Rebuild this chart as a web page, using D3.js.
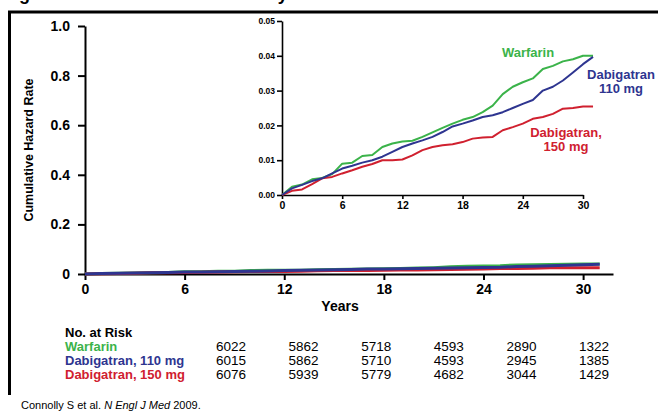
<!DOCTYPE html>
<html>
<head>
<meta charset="utf-8">
<script src="https://cdn.jsdelivr.net/npm/d3@7"></script>
<style>
  body { margin: 0; background: #fff; }
  svg { display: block; font-family: "Liberation Sans", Arial, sans-serif; }
  .axis path, .axis line { stroke: #000; }
  .axis text { fill: #000; font-weight: bold; }
</style>
</head>
<body>
<div id="chart"></div>
<script>
// months of follow-up
var months = [0, 1, 2, 3, 4, 5, 6, 7, 8, 9, 10, 11, 12, 13, 14, 15, 16, 17, 18, 19, 20, 21, 22, 23, 24, 25, 26, 27, 28, 29, 30, 31];

// cumulative hazard
var warfarin = [0, 0.0024, 0.0030, 0.0045, 0.0049, 0.0060, 0.0090, 0.0093, 0.0112, 0.0115, 0.0138, 0.0148, 0.0154, 0.0156, 0.0167, 0.0180, 0.0193, 0.0205, 0.0216, 0.0224, 0.0238, 0.0257, 0.0290, 0.0311, 0.0324, 0.0335, 0.0362, 0.0371, 0.0384, 0.0390, 0.0400, 0.0400];
var dabi110 = [0, 0.0019, 0.0029, 0.0040, 0.0048, 0.0062, 0.0076, 0.0084, 0.0093, 0.0100, 0.0110, 0.0124, 0.0138, 0.0148, 0.0157, 0.0167, 0.0181, 0.0197, 0.0205, 0.0214, 0.0224, 0.0229, 0.0238, 0.0250, 0.0262, 0.0273, 0.0300, 0.0311, 0.0329, 0.0352, 0.0376, 0.0397];
var dabi150 = [0, 0.0012, 0.0016, 0.0031, 0.0048, 0.0052, 0.0062, 0.0071, 0.0081, 0.0089, 0.0100, 0.0100, 0.0102, 0.0114, 0.0129, 0.0138, 0.0143, 0.0146, 0.0152, 0.0162, 0.0165, 0.0167, 0.0186, 0.0195, 0.0205, 0.0219, 0.0224, 0.0233, 0.0248, 0.0250, 0.0254, 0.0254];

// number at risk table
var riskTimes = [0, 6, 12, 18, 24, 30];
var riskWarfarin = [6022, 5862, 5718, 4593, 2890, 1322];
var riskDabi110 = [6015, 5862, 5710, 4593, 2945, 1385];
var riskDabi150 = [6076, 5939, 5779, 4682, 3044, 1429];

var xTicks = [0, 6, 12, 18, 24, 30];
var mainYTicks = [0, 0.2, 0.4, 0.6, 0.8, 1.0];
var insetYTicks = [0, 0.01, 0.02, 0.03, 0.04, 0.05];

var GREEN = "#3bb34a", BLUE = "#2e3590", RED = "#d0202f";

var series = [
    {name: "Warfarin", values: warfarin, color: GREEN, risk: riskWarfarin, label: "Warfarin"},
    {name: "Dabigatran 150", values: dabi150, color: RED, risk: riskDabi150, label: "Dabigatran, 150 mg"},
    {name: "Dabigatran 110", values: dabi110, color: BLUE, risk: riskDabi110, label: "Dabigatran, 110 mg"}
];

var WIDTH = 658, HEIGHT = 412;

var svg = d3.select("#chart")
    .append("svg")
    .attr("width", WIDTH)
    .attr("height", HEIGHT);

// title, cropped by the top edge like in the slide
svg.append("text")
    .attr("x", 3)
    .attr("y", 0)
    .style("font-size", "18px")
    .style("font-weight", "bold")
    .text("Figure: Time to First Stroke or Systemic Embolism");

// frame: top and left rules
svg.append("line")
    .attr("x1", 8).attr("x2", WIDTH)
    .attr("y1", 12).attr("y2", 12)
    .attr("stroke", "#000").attr("stroke-width", 3);
svg.append("line")
    .attr("x1", 9.5).attr("x2", 9.5)
    .attr("y1", 11).attr("y2", 395)
    .attr("stroke", "#000").attr("stroke-width", 3);

// ---- main plot ----
var x = d3.scaleLinear().domain([0, 31.8]).range([85, 613]);
var y = d3.scaleLinear().domain([0, 1]).range([274, 26]);

var xAxis = svg.append("g")
    .attr("class", "axis")
    .attr("transform", "translate(0," + y(0) + ")")
    .call(d3.axisBottom(x).tickValues(xTicks).tickSize(6).tickSizeOuter(0).tickPadding(4));
xAxis.selectAll("path, line").attr("stroke-width", 2);
xAxis.selectAll("text").style("font-size", "14px");

var yAxis = svg.append("g")
    .attr("class", "axis")
    .attr("transform", "translate(" + x(0) + ",0)")
    .call(d3.axisLeft(y).tickValues(mainYTicks).tickSize(7).tickSizeOuter(0).tickPadding(8)
        .tickFormat(function(d) { return d === 0 ? "0" : d3.format(".1f")(d); }));
yAxis.selectAll("path, line").attr("stroke-width", 2);
yAxis.selectAll("text").style("font-size", "14px");

svg.append("text")
    .attr("x", 340)
    .attr("y", 311)
    .attr("text-anchor", "middle")
    .style("font-size", "14px")
    .style("font-weight", "bold")
    .text("Years");

svg.append("text")
    .attr("transform", "translate(33,150) rotate(-90)")
    .attr("text-anchor", "middle")
    .style("font-size", "12.5px")
    .style("font-weight", "bold")
    .text("Cumulative Hazard Rate");

var mainLine = d3.line()
    .x(function(d, i) { return x(months[i]); })
    .y(function(d) { return y(d); });

svg.append("g")
    .selectAll("path")
    .data(series)
    .enter()
    .append("path")
    .attr("fill", "none")
    .attr("stroke", function(d) { return d.color; })
    .attr("stroke-width", 3)
    .attr("d", function(d) { return mainLine(d.values); });

// ---- inset ----
var xi = d3.scaleLinear().domain([0, 30]).range([282, 583]);
var yi = d3.scaleLinear().domain([0, 0.05]).range([195, 21]);

var xiAxis = svg.append("g")
    .attr("class", "axis")
    .attr("transform", "translate(0," + yi(0) + ")")
    .call(d3.axisBottom(xi).tickValues(xTicks).tickSize(4).tickSizeOuter(0).tickPadding(3));
xiAxis.selectAll("path, line").attr("stroke-width", 1.6);
xiAxis.selectAll("text").style("font-size", "10.5px");

var yiAxis = svg.append("g")
    .attr("class", "axis")
    .attr("transform", "translate(" + xi(0) + ",0)")
    .call(d3.axisLeft(yi).tickValues(insetYTicks).tickSize(5).tickSizeOuter(0).tickPadding(2)
        .tickFormat(d3.format(".2f")));
yiAxis.selectAll("path, line").attr("stroke-width", 1.6);
yiAxis.selectAll("text").style("font-size", "8.5px");

var insetLine = d3.line()
    .x(function(d, i) { return xi(months[i]); })
    .y(function(d) { return yi(d); });

svg.append("g")
    .selectAll("path")
    .data(series)
    .enter()
    .append("path")
    .attr("fill", "none")
    .attr("stroke", function(d) { return d.color; })
    .attr("stroke-width", 2)
    .attr("stroke-linejoin", "round")
    .attr("d", function(d) { return insetLine(d.values); });

// inset labels
var insetLabels = [
    {lines: ["Warfarin"], color: GREEN, x: 528, y: 57},
    {lines: ["Dabigatran", "110 mg"], color: BLUE, x: 621, y: 79},
    {lines: ["Dabigatran,", "150 mg"], color: RED, x: 566, y: 137}
];
insetLabels.forEach(function(l) {
    var t = svg.append("text")
        .attr("text-anchor", "middle")
        .attr("fill", l.color)
        .style("font-size", "13px")
        .style("font-weight", "bold");
    l.lines.forEach(function(s, i) {
        t.append("tspan").attr("x", l.x).attr("y", l.y + i * 14).text(s);
    });
});

// ---- number at risk ----
var col = d3.scaleLinear().domain([0, 30]).range([231, 594]);

svg.append("text")
    .attr("x", 65).attr("y", 337)
    .style("font-size", "13px")
    .style("font-weight", "bold")
    .text("No. at Risk");

var rowOrder = [series[0], series[2], series[1]];
rowOrder.forEach(function(s, r) {
    var ry = 351 + r * 14;
    svg.append("text")
        .attr("x", 65).attr("y", ry)
        .attr("fill", s.color)
        .style("font-size", "13px")
        .style("font-weight", "bold")
        .text(s.label);
    svg.append("g")
        .selectAll("text")
        .data(s.risk)
        .enter()
        .append("text")
        .attr("x", function(d, i) { return col(riskTimes[i]); })
        .attr("y", ry)
        .attr("text-anchor", "middle")
        .style("font-size", "13.5px")
        .text(function(d) { return d; });
});

// citation
var cite = svg.append("text")
    .attr("x", 21).attr("y", 409)
    .style("font-size", "11px");
cite.append("tspan").text("Connolly S et al. ");
cite.append("tspan").style("font-style", "italic").text("N Engl J Med");
cite.append("tspan").text(" 2009.");
</script>
</body>
</html>
